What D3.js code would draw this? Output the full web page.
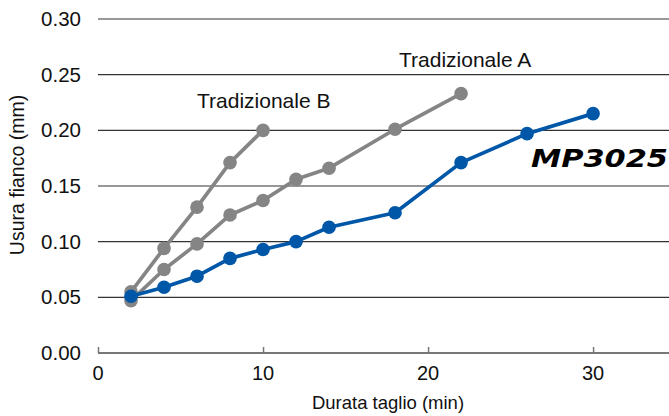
<!DOCTYPE html>
<html><head><meta charset="utf-8">
<script src="https://cdn.jsdelivr.net/npm/d3@7"></script>
<style>html,body{margin:0;padding:0;background:#fff;}svg{display:block;font-family:"Liberation Sans",Arial,sans-serif;}</style>
</head><body>
<svg id="c" width="669" height="416"></svg>
<script>
const timeMP = [2,4,6,8,10,12,14,18,22,26,30];
const wearMP = [0.051,0.059,0.069,0.085,0.093,0.100,0.113,0.126,0.171,0.197,0.215];
const timeA = [2,4,6,8,10,12,14,18,22];
const wearA = [0.047,0.075,0.098,0.124,0.137,0.156,0.166,0.201,0.233];
const timeB = [2,4,6,8,10];
const wearB = [0.055,0.094,0.131,0.171,0.200];
const yTicks = [0,0.05,0.10,0.15,0.20,0.25,0.30];
const xTicks = [0,10,20,30];

const svg = d3.select("#c");
const x = d3.scaleLinear().domain([0,34.6]).range([98,669]);
const y = d3.scaleLinear().domain([0,0.30]).range([353,19]);

// gridlines
svg.append("g").selectAll("line").data(yTicks.filter(d=>d>0)).join("line")
  .attr("x1",98).attr("x2",669).attr("y1",d=>y(d)).attr("y2",d=>y(d))
  .attr("stroke","#333").attr("stroke-width",1.1);

// y tick labels
svg.append("g").selectAll("text").data(yTicks).join("text")
  .attr("x",81).attr("y",d=>y(d)+7).attr("text-anchor","end")
  .attr("font-size",20.5).attr("fill","#111").text(d=>d3.format(".2f")(d));

// x axis
const xa = svg.append("g").attr("transform","translate(0,353)")
  .call(d3.axisTop(x).tickValues(xTicks).tickSize(6).tickFormat(""));
xa.select(".domain").attr("stroke","#777").attr("stroke-width",2).attr("d","M98,0H669");
xa.selectAll(".tick line").attr("stroke","#777").attr("stroke-width",1.5);
svg.append("g").selectAll("text").data(xTicks).join("text")
  .attr("x",d=>x(d)).attr("y",380).attr("text-anchor","middle")
  .attr("font-size",20).attr("fill","#111").text(d=>d);

// axis titles
svg.append("text").attr("x",388).attr("y",409).attr("text-anchor","middle")
  .attr("font-size",18.5).attr("fill","#111").text("Durata taglio (min)");
svg.append("text").attr("transform","translate(24,175) rotate(-90)").attr("text-anchor","middle")
  .attr("font-size",19.5).attr("fill","#111").text("Usura fianco (mm)");

const line = d3.line().x(d=>x(d[0])).y(d=>y(d[1]));
function series(xs, ys, color){
  const pts = xs.map((t,i)=>[t, ys[i]]);
  svg.append("path").datum(pts).attr("d",line).attr("fill","none")
    .attr("stroke",color).attr("stroke-width",3.7).attr("stroke-linejoin","round");
  svg.append("g").selectAll("circle").data(pts).join("circle")
    .attr("cx",d=>x(d[0])).attr("cy",d=>y(d[1])).attr("r",6.8).attr("fill",color);
}
series(timeA, wearA, "#858585");
series(timeB, wearB, "#858585");
series(timeMP, wearMP, "#0057a8");

svg.append("text").attr("x",399).attr("y",67).attr("font-size",21).attr("fill","#111").text("Tradizionale A");
svg.append("text").attr("x",197).attr("y",108).attr("font-size",21).attr("fill","#111").text("Tradizionale B");
svg.append("text").attr("x",531).attr("y",167).attr("font-size",24)
  .attr("font-family","'DejaVu Sans',sans-serif").attr("font-weight","bold")
  .attr("font-style","italic").attr("fill","#000")
  .attr("textLength",137).attr("lengthAdjust","spacingAndGlyphs").text("MP3025");
</script>
</body></html>
